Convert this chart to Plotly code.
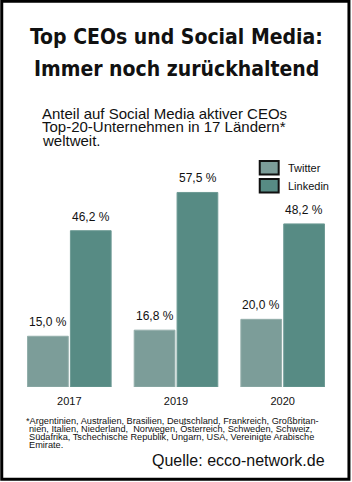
import plotly.graph_objects as go

years = ["2017", "2019", "2020"]
twitter = [15.0, 16.8, 20.0]
linkedin = [46.2, 57.5, 48.2]
series_names = ["Twitter", "Linkedin"]
title_lines = ["Top CEOs und Social Media:", "Immer noch zurückhaltend"]
subtitle_lines = ["Anteil auf Social Media aktiver CEOs",
                  "Top-20-Unternehmen in 17 Ländern*",
                  "weltweit."]
footnote_lines = ["*Argentinien, Australien, Brasilien, Deutschland, Frankreich, Großbritan-",
                  "nien, Italien, Niederland,  Norwegen, Österreich, Schweden, Schweiz,",
                  "Südafrika, Tschechische Republik, Ungarn, USA, Vereinigte Arabische",
                  "Emirate."]
source = "Quelle: ecco-network.de"

W, H = 352, 482
L, R, T, B = 15.5, 15.5, 184, 95
PW, PH = W - L - R, H - T - B

def px(x):
    return (x - L) / PW

def py(y):
    return (H - B - y) / PH

c_tw = "#7c9d99"
c_li = "#578b84"

def fmt(v):
    return f"{v:.1f}".replace(".", ",") + " %"

fig = go.Figure()
fig.add_trace(go.Bar(x=years, y=twitter, name=series_names[0],
                     marker=dict(color=c_tw, line=dict(color="#93aeaa", width=1))))
fig.add_trace(go.Bar(x=years, y=linkedin, name=series_names[1],
                     marker=dict(color=c_li, line=dict(color="#6d9a94", width=1))))

ann = []
for vals, sh in ((twitter, -21.5), (linkedin, 21.5)):
    for i, v in enumerate(vals):
        ann.append(dict(x=i, y=v, xref="x", yref="y", text=fmt(v), showarrow=False,
                        xshift=sh, yanchor="bottom", yshift=5,
                        font=dict(family="Liberation Sans, Arial", size=12, color="#111")))

for i, t in enumerate(title_lines):
    ann.append(dict(x=px(176), y=py(37 + 32 * i), xref="paper", yref="paper", text=f"<b>{t}</b>",
                    showarrow=False, xanchor="center", yanchor="middle",
                    font=dict(family="DejaVu Sans Condensed", size=21, color="#111")))
for i, t in enumerate(subtitle_lines):
    ann.append(dict(x=px(40), y=py(113 + 13.5 * i), xref="paper", yref="paper", text=t,
                    showarrow=False, xanchor="left", yanchor="middle",
                    font=dict(family="Liberation Sans, Arial", size=15, color="#111")))
for i, t in enumerate(footnote_lines):
    ann.append(dict(x=px(24 if i == 0 else 26.5), y=py(421 + 8 * i), xref="paper", yref="paper",
                    text=t, showarrow=False, xanchor="left", yanchor="middle",
                    font=dict(family="Liberation Sans, Arial", size=9.2, color="#111")))
ann.append(dict(x=px(327), y=py(460), xref="paper", yref="paper", text=source,
                showarrow=False, xanchor="right", yanchor="middle",
                font=dict(family="Liberation Sans, Arial", size=16, color="#111")))

shapes = []
for i, (nm, col) in enumerate(zip(series_names, [c_tw, c_li])):
    y0 = 161 + 18 * i
    shapes.append(dict(type="rect", xref="paper", yref="paper",
                       x0=px(260), x1=px(279), y0=py(y0), y1=py(y0 + 13.5),
                       fillcolor=col, line=dict(color="#111", width=2)))
    ann.append(dict(x=px(286), y=py(y0 + 6.5), xref="paper", yref="paper", text=nm,
                    showarrow=False, xanchor="left", yanchor="middle",
                    font=dict(family="Liberation Sans, Arial", size=11, color="#111")))

shapes.append(dict(type="rect", xref="paper", yref="paper",
                   x0=px(1.2), x1=px(349.5), y0=py(1.2), y1=py(479.2),
                   line=dict(color="#000", width=3), fillcolor="rgba(0,0,0,0)"))

fig.update_layout(
    width=W, height=H, margin=dict(l=L, r=R, t=T, b=B),
    paper_bgcolor="white", plot_bgcolor="white",
    barmode="group", bargap=0.196, bargroupgap=0.05,
    showlegend=False,
    annotations=ann, shapes=shapes,
    xaxis=dict(type="category", range=[-0.5, len(years) - 0.5], showgrid=False, zeroline=False,
               showline=False, ticks="",
               tickfont=dict(family="Liberation Sans, Arial", size=11, color="#111"),
               ticklabelstandoff=6, automargin=False, fixedrange=True),
    yaxis=dict(range=[0, 60], visible=False, automargin=False, fixedrange=True),
)
fig.write_html("out.html", config={"displayModeBar": False})
